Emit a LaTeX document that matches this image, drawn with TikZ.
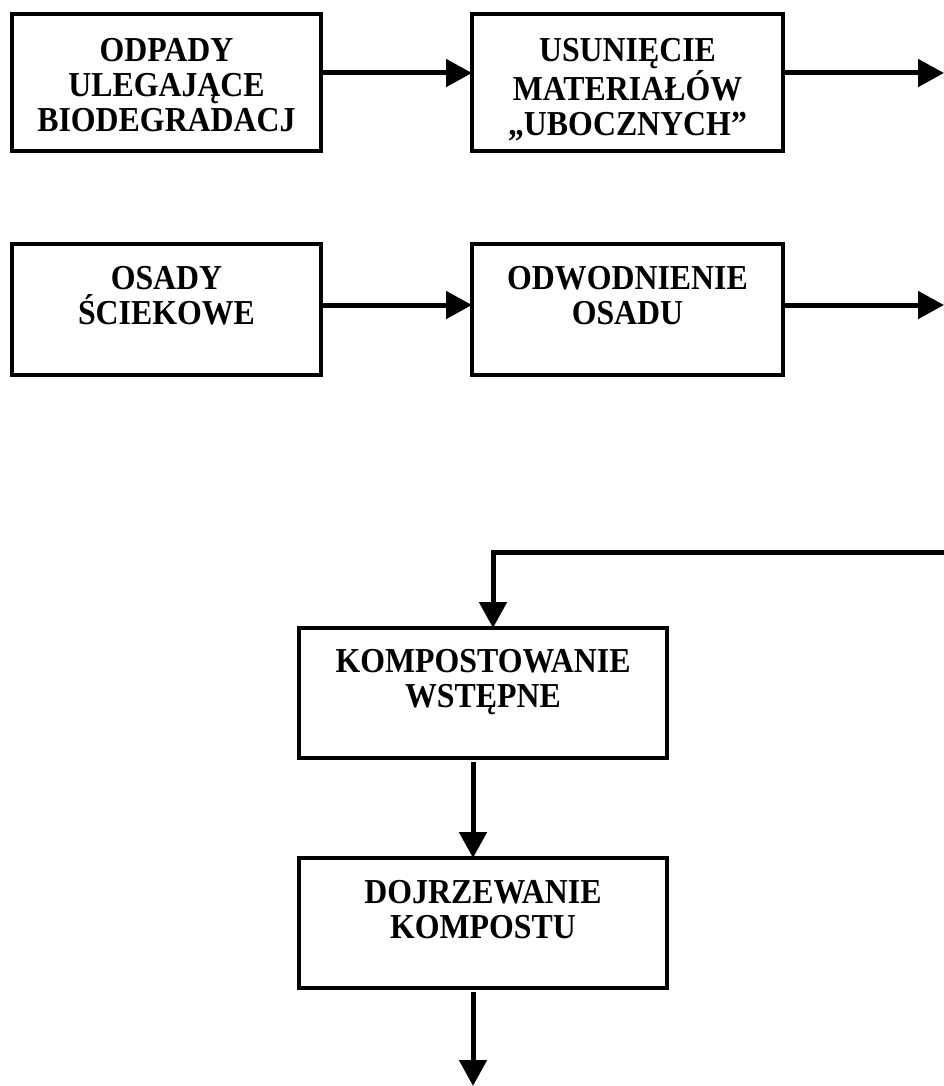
\documentclass[tikz,border=0pt]{standalone}
\usepackage{fontspec}
\setmainfont{Liberation Serif}[FakeStretch=0.91]
\usetikzlibrary{arrows.meta}
\newcommand{\bxt}[4]{\parbox[c][#2][t]{#1}{\centering\rule{0pt}{#3}#4}}
\begin{document}
\begin{tikzpicture}[x=1pt,y=-1pt,
  procbox/.style={draw, line width=3.2pt, inner sep=0pt, outer sep=0pt,
    font=\bfseries\fontsize{35}{35}\selectfont},
  arr/.style={line width=5pt, -{Triangle[length=26pt,width=27pt]}}]
\useasboundingbox (0,0) rectangle (944,1086);
\node[procbox] (b1) at (166.5,82.5) {\bxt{309pt}{137pt}{48pt}{ODPADY\\ULEGAJĄCE\\BIODEGRADACJ}};
\node[procbox] (b2) at (627.5,82.5) {\bxt{311pt}{137pt}{48pt}{USUNIĘCIE\\MATERIAŁÓW\\„UBOCZNYCH”}};
\node[procbox] (b3) at (166.5,309.5) {\bxt{309pt}{131pt}{45pt}{OSADY\\ŚCIEKOWE}};
\node[procbox] (b4) at (627.5,309.5) {\bxt{311pt}{131pt}{45pt}{ODWODNIENIE\\OSADU}};
\node[procbox] (b5) at (483,693) {\bxt{368pt}{130pt}{44pt}{KOMPOSTOWANIE\\WSTĘPNE}};
\node[procbox] (b6) at (483,923) {\bxt{368pt}{130pt}{45pt}{DOJRZEWANIE\\KOMPOSTU}};
\coordinate (o1) at (944,73);
\coordinate (o2) at (944,305);
\coordinate (fin) at (944,552);
\coordinate (out) at (473,1086);
\draw[arr] (b1.east |- o1) -- (b2.west |- o1);
\draw[arr] (b2.east |- o1) -- (o1);
\draw[arr] (b3.east |- o2) -- (b4.west |- o2);
\draw[arr] (b4.east |- o2) -- (o2);
\draw[arr] (fin) -- (493,552) -- (b5.north -| 493,0);
\draw[arr, shorten <=4pt] (b5.south -| out) -- (b6.north -| out);
\draw[arr, shorten <=4pt] (b6.south -| out) -- (out);
\end{tikzpicture}
\end{document}
